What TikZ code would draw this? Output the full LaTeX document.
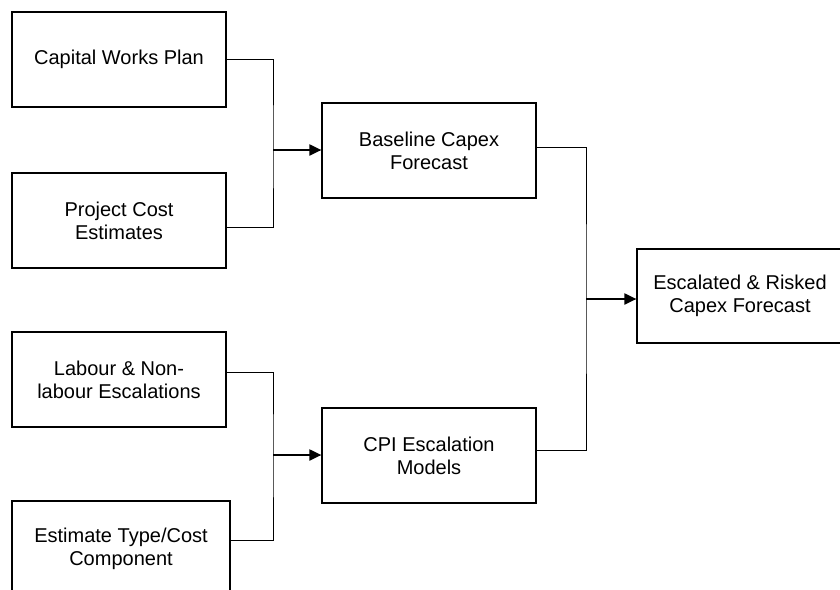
\documentclass[tikz,border=0pt]{standalone}
\usepackage{fontspec}
\setmainfont{Liberation Sans}
\usetikzlibrary{arrows.meta}
\begin{document}
\begin{tikzpicture}[x=1pt,y=-1pt,
  box/.style={draw=black, line width=1.2pt, fill=white, inner sep=0pt,
    minimum width=214pt, minimum height=95pt, align=center,
    font=\fontsize{20pt}{23pt}\selectfont},
  link/.style={draw=black, line width=1pt},
  feed/.style={draw=black, line width=2pt, -{Triangle[length=12pt,width=11pt]}}]
\useasboundingbox (0,0) rectangle (840,589);
\clip (0,0) rectangle (840,589);
\fill[white] (0,0) rectangle (840,589);
% nodes
\node[box] (cwp) at (119,59.5) {Capital Works Plan};
\node[box] (pce) at (119,220.5) {Project Cost\\Estimates};
\node[box] (lab) at (119,379.5) {Labour \& Non-\\labour Escalations};
\node[box, minimum width=218pt, minimum height=96pt] (etc) at (121,549) {Estimate Type/Cost\\Component};
\node[box] (bcf) at (429,150.5) {Baseline Capex\\Forecast};
\node[box] (cpi) at (429,455.5) {CPI Escalation\\Models};
\node[box, minimum width=206pt, minimum height=94pt] (erc) at (740,296) {Escalated \& Risked\\Capex Forecast};
% junctions
\coordinate (j1) at (273,150);
\coordinate (j2) at (273,455);
\coordinate (j3) at (586,299);
% connectors
\draw[link] (cwp.east) -| (j1) |- ([yshift=-6.5pt]pce.east);
\draw[feed] (j1) -- (j1 -| bcf.west);
\draw[link] ([yshift=7.5pt]lab.east) -| (j2) |- ([yshift=9pt]etc.east);
\draw[feed] (j2) -- (j2 -| cpi.west);
\draw[link] ([yshift=3.5pt]bcf.east) -| (j3) |- ([yshift=5.5pt]cpi.east);
\draw[feed] (j3) -- (j3 -| erc.west);
\end{tikzpicture}
\end{document}
